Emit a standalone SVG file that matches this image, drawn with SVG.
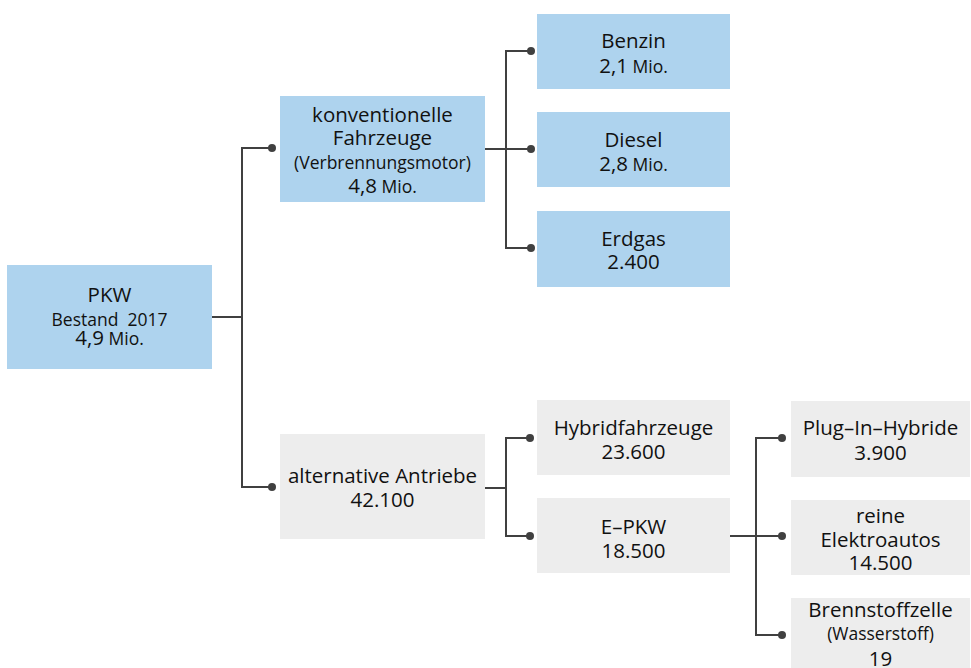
<svg xmlns="http://www.w3.org/2000/svg" width="971" height="668" viewBox="0 0 971 668">
<style>
.blue{fill:#aed3ee}
.gray{fill:#ededed}
text{font-family:"Open Sans","Noto Sans","Liberation Sans",sans-serif;fill:#111111;text-anchor:middle}
.m{font-size:20.5px}
.s{font-size:17.5px}
.pre{white-space:pre}
.con{fill:none;stroke:#404040;stroke-width:2}
</style>
<defs>
<marker id="dot" markerUnits="userSpaceOnUse" markerWidth="10" markerHeight="10" refX="5" refY="5" viewBox="0 0 10 10">
<circle cx="5" cy="5" r="4" fill="#404040"/>
</marker>
</defs>
<g id="connectors">
<path class="con" d="M212,317 H242"/>
<path class="con" d="M272,148 H242 V487 H272" marker-start="url(#dot)" marker-end="url(#dot)"/>
<path class="con" d="M485,149 H531" marker-end="url(#dot)"/>
<path class="con" d="M531,51 H506 V248 H531" marker-start="url(#dot)" marker-end="url(#dot)"/>
<path class="con" d="M485,488 H506"/>
<path class="con" d="M530,438 H506 V536 H530" marker-start="url(#dot)" marker-end="url(#dot)"/>
<path class="con" d="M730,536 H782" marker-end="url(#dot)"/>
<path class="con" d="M782,438 H756 V635 H782" marker-start="url(#dot)" marker-end="url(#dot)"/>
</g>
<g id="pkw">
<rect class="blue" x="7" y="265" width="205" height="104"/>
<text class="m" x="109.5" y="302">PKW</text>
<text class="s pre" x="109.5" y="326" xml:space="preserve">Bestand  2017</text>
<text x="109.5" y="345"><tspan class="m">4,9</tspan><tspan class="s"> Mio.</tspan></text>
</g>
<g id="konventionell">
<rect class="blue" x="280" y="96" width="205" height="106"/>
<text class="m" x="382.5" y="122">konventionelle</text>
<text class="m" x="382.5" y="145">Fahrzeuge</text>
<text class="s" x="382.5" y="169">(Verbrennungsmotor)</text>
<text x="382.5" y="193"><tspan class="m">4,8</tspan><tspan class="s"> Mio.</tspan></text>
</g>
<g id="benzin">
<rect class="blue" x="537" y="14" width="193" height="75"/>
<text class="m" x="633.5" y="48">Benzin</text>
<text x="633.5" y="73"><tspan class="m">2,1</tspan><tspan class="s"> Mio.</tspan></text>
</g>
<g id="diesel">
<rect class="blue" x="537" y="112" width="193" height="75"/>
<text class="m" x="633.5" y="147">Diesel</text>
<text x="633.5" y="171"><tspan class="m">2,8</tspan><tspan class="s"> Mio.</tspan></text>
</g>
<g id="erdgas">
<rect class="blue" x="537" y="211" width="193" height="76"/>
<text class="m" x="633.5" y="246">Erdgas</text>
<text class="m" x="633.5" y="269">2.400</text>
</g>
<g id="alternativ">
<rect class="gray" x="280" y="434" width="205" height="105"/>
<text class="m" x="382.5" y="483">alternative Antriebe</text>
<text class="m" x="382.5" y="507">42.100</text>
</g>
<g id="hybrid">
<rect class="gray" x="537" y="400" width="193" height="75"/>
<text class="m" x="633.5" y="435">Hybridfahrzeuge</text>
<text class="m" x="633.5" y="459">23.600</text>
</g>
<g id="epkw">
<rect class="gray" x="537" y="498" width="193" height="75"/>
<text class="m" x="633.5" y="534">E–PKW</text>
<text class="m" x="633.5" y="558">18.500</text>
</g>
<g id="plugin">
<rect class="gray" x="791" y="401" width="179" height="76"/>
<text class="m" x="880.5" y="435">Plug–In–Hybride</text>
<text class="m" x="880.5" y="460">3.900</text>
</g>
<g id="elektro">
<rect class="gray" x="791" y="500" width="179" height="75"/>
<text class="m" x="880.5" y="523">reine</text>
<text class="m" x="880.5" y="547">Elektroautos</text>
<text class="m" x="880.5" y="570">14.500</text>
</g>
<g id="brennstoff">
<rect class="gray" x="791" y="598" width="179" height="75"/>
<text class="m" x="880.5" y="617">Brennstoffzelle</text>
<text class="s" x="880.5" y="640">(Wasserstoff)</text>
<text class="m" x="880.5" y="666">19</text>
</g>
</svg>
